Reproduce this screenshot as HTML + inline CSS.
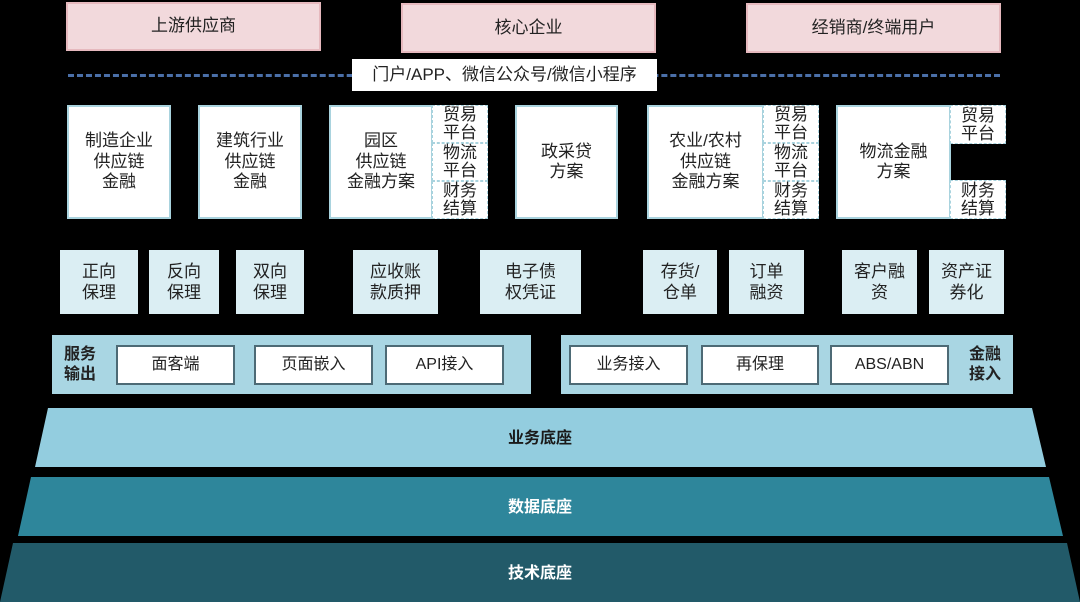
<!DOCTYPE html>
<html><head><meta charset="utf-8">
<style>
*{margin:0;padding:0;box-sizing:border-box}
body{width:1080px;height:602px;background:#000;position:relative;overflow:hidden;font-family:"Liberation Sans","Noto Sans CJK SC",sans-serif;color:#222}
.a{position:absolute;display:flex;align-items:center;justify-content:center;text-align:center;line-height:1.2}
.pk{background:#f2d9dc;border:2px solid #e6b9be;font-size:17px}
.wb{background:#fff;border:2px solid #a9d3de;font-size:17px}
.sc{background:#fff;border:1px dashed #a9d3de;font-size:17px;line-height:18px}
.lc{background:#dbeef3;font-size:17px;line-height:21px}
.bar{background:#a9d6e3}
.ib{background:#fff;border:2px solid #4d6a75;font-size:16px}
.bl{font-weight:bold;font-size:16px;line-height:20px}
</style></head><body>
<div class="a pk" style="left:66px;top:2px;width:255px;height:49px">上游供应商</div>
<div class="a pk" style="left:401px;top:3px;width:255px;height:50px">核心企业</div>
<div class="a pk" style="left:746px;top:3px;width:255px;height:50px">经销商/终端用户</div>
<div style="position:absolute;left:68px;top:74px;width:932px;border-top:3px dashed #4a6fa8"></div>
<div class="a" style="left:352px;top:59px;width:305px;height:32px;background:#fff;font-size:17px">门户/APP、微信公众号/微信小程序</div>

<div class="a wb" style="left:67px;top:105px;width:104px;height:114px">制造企业<br>供应链<br>金融</div>
<div class="a wb" style="left:198px;top:105px;width:104px;height:114px">建筑行业<br>供应链<br>金融</div>
<div class="a wb" style="left:329px;top:105px;width:104px;height:114px">园区<br>供应链<br>金融方案</div>
<div class="a sc" style="left:432px;top:105px;width:56px;height:38px">贸易<br>平台</div>
<div class="a sc" style="left:432px;top:143px;width:56px;height:38px">物流<br>平台</div>
<div class="a sc" style="left:432px;top:181px;width:56px;height:38px">财务<br>结算</div>
<div class="a wb" style="left:515px;top:105px;width:103px;height:114px">政采贷<br>方案</div>
<div class="a wb" style="left:647px;top:105px;width:117px;height:114px">农业/农村<br>供应链<br>金融方案</div>
<div class="a sc" style="left:763px;top:105px;width:56px;height:38px">贸易<br>平台</div>
<div class="a sc" style="left:763px;top:143px;width:56px;height:38px">物流<br>平台</div>
<div class="a sc" style="left:763px;top:181px;width:56px;height:38px">财务<br>结算</div>
<div class="a wb" style="left:836px;top:105px;width:115px;height:114px">物流金融<br>方案</div>
<div class="a sc" style="left:950px;top:105px;width:56px;height:39px">贸易<br>平台</div>
<div class="a sc" style="left:950px;top:180px;width:56px;height:39px">财务<br>结算</div>

<div class="a lc" style="left:60px;top:250px;width:78px;height:64px">正向<br>保理</div>
<div class="a lc" style="left:149px;top:250px;width:70px;height:64px">反向<br>保理</div>
<div class="a lc" style="left:236px;top:250px;width:68px;height:64px">双向<br>保理</div>
<div class="a lc" style="left:353px;top:250px;width:85px;height:64px">应收账<br>款质押</div>
<div class="a lc" style="left:480px;top:250px;width:101px;height:64px">电子债<br>权凭证</div>
<div class="a lc" style="left:643px;top:250px;width:74px;height:64px">存货/<br>仓单</div>
<div class="a lc" style="left:729px;top:250px;width:75px;height:64px">订单<br>融资</div>
<div class="a lc" style="left:842px;top:250px;width:75px;height:64px">客户融<br>资</div>
<div class="a lc" style="left:929px;top:250px;width:75px;height:64px">资产证<br>券化</div>

<div class="bar" style="position:absolute;left:52px;top:335px;width:479px;height:59px"></div>
<div class="a bl" style="left:58px;top:344px;width:44px;height:42px">服务<br>输出</div>
<div class="a ib" style="left:116px;top:345px;width:119px;height:40px">面客端</div>
<div class="a ib" style="left:254px;top:345px;width:119px;height:40px">页面嵌入</div>
<div class="a ib" style="left:385px;top:345px;width:119px;height:40px">API接入</div>
<div class="bar" style="position:absolute;left:561px;top:335px;width:452px;height:59px"></div>
<div class="a ib" style="left:569px;top:345px;width:119px;height:40px">业务接入</div>
<div class="a ib" style="left:701px;top:345px;width:118px;height:40px">再保理</div>
<div class="a ib" style="left:830px;top:345px;width:119px;height:40px">ABS/ABN</div>
<div class="a bl" style="left:962px;top:344px;width:46px;height:42px">金融<br>接入</div>

<svg style="position:absolute;left:0;top:0" width="1080" height="602">
<polygon points="48,408 1032,408 1046,467 35,467" fill="#93cddf"/>
<polygon points="31,477 1049,477 1063,536 18,536" fill="#2e869b"/>
<polygon points="13,543 1067,543 1080,602 0,602" fill="#225a69"/>
<g font-family="Liberation Sans,Noto Sans CJK SC,sans-serif" font-size="16" font-weight="bold" text-anchor="middle">
<text x="540" y="443" fill="#1a1a1a">业务底座</text>
<text x="540" y="512" fill="#fff">数据底座</text>
<text x="540" y="578" fill="#fff">技术底座</text>
</g>
</svg>
</body></html>
